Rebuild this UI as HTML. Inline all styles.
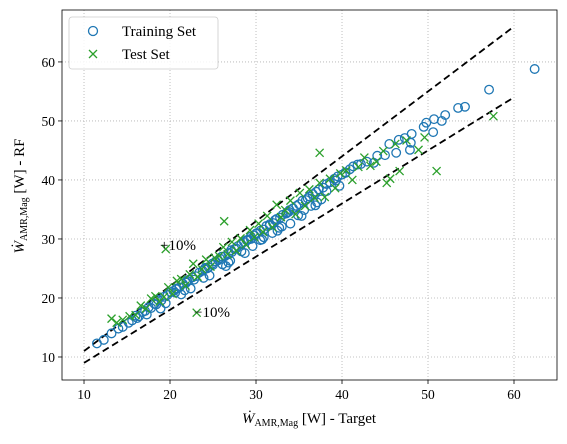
<!DOCTYPE html>
<html><head><meta charset="utf-8"><style>
body{margin:0;background:#fff;}
svg text{font-family:"Liberation Serif",serif;fill:#000;}
</style></head><body>
<svg id="chart" width="567" height="439" xmlns="http://www.w3.org/2000/svg">
<g id="grid"></g>
<g id="lines"></g>
<g id="train"></g>
<g id="test"></g>
<rect x="62" y="10" width="495" height="370" fill="none" stroke="#000" stroke-width="0.8"/>
<g id="axes"></g>
<text x="160" y="250" font-size="15">+10%</text>
<text x="194" y="317" font-size="15">−10%</text>
<text x="309" y="423" font-size="15" text-anchor="middle"><tspan font-style="italic">Ẇ</tspan><tspan font-size="10" dy="3">AMR,Mag</tspan><tspan dy="-3"> [W] - Target</tspan></text>
<text transform="translate(24,196) rotate(-90)" font-size="15" text-anchor="middle"><tspan font-style="italic">Ẇ</tspan><tspan font-size="10" dy="3">AMR,Mag</tspan><tspan dy="-3"> [W] - RF</tspan></text>
<g>
<rect x="69" y="17" width="149" height="52" rx="3" fill="#fff" fill-opacity="0.85" stroke="#ccc" stroke-width="0.8"/>
<circle cx="93" cy="31" r="4.5" fill="none" stroke="#1f77b4" stroke-width="1.3"/>
<text x="122" y="36" font-size="15">Training Set</text>
<path d="M89,50 l8,8 M97,50 l-8,8" stroke="#2ca02c" stroke-width="1.3"/>
<text x="122" y="59" font-size="15">Test Set</text>
</g>
</svg>
<script>
const xTicks=[10,20,30,40,50,60];
const yTicks=[10,20,30,40,50,60];
const trainX=[11.5,12.3,13.2,14.0,14.5,15.2,15.6,16.0,16.4,16.8,17.1,17.5,17.8,18.2,18.6,19.0,19.3,19.7,20.1,20.4,20.8,21.1,21.5,21.9,22.2,22.6,23.0,23.4,23.8,24.1,24.5,24.9,25.3,25.6,26.0,26.4,26.8,27.1,27.5,27.9,28.3,28.6,29.0,29.4,29.8,30.1,30.5,30.9,31.2,31.6,32.0,32.4,32.8,33.1,33.5,33.9,34.3,34.7,35.0,35.4,35.8,36.2,36.6,37.0,37.3,37.8,38.2,38.6,39.1,39.5,40.0,40.4,40.9,41.3,41.8,42.2,42.9,43.7,44.1,45.0,45.5,46.3,46.6,47.3,47.9,48.0,48.1,49.5,49.8,50.6,50.7,51.6,52.0,53.5,54.3,57.1,62.4,
 16.2,17.3,18.4,19.5,20.6,21.7,22.8,23.9,25.0,26.1,27.2,28.3,29.4,30.5,31.6,32.7,33.8,34.9,36.0,37.1,38.2,39.3,40.4,21.3,24.6,27.7,30.9,33.6,36.4,26.5,29.1,35.3,22.0,28.7,31.9,
 18.9,20.7,22.4,24.3,26.8,28.9,30.7,32.2,34.0,35.6,37.6,39.7,24.0,27.0,30.0,33.0,36.9,25.8,29.6,32.5];
const trainY=[12.3,12.9,14.0,14.8,15.1,15.8,16.2,17.0,16.9,17.6,17.8,18.4,18.3,19.0,19.7,19.6,20.2,20.5,21.0,21.2,21.6,21.8,22.4,22.6,23.1,23.5,23.7,24.3,24.6,25.1,25.2,25.8,26.2,26.4,27.0,27.1,27.6,28.1,28.3,28.8,29.1,29.5,29.8,30.4,30.6,31.0,31.4,31.6,32.2,32.5,32.7,33.4,33.6,34.1,34.3,34.9,35.2,35.6,35.9,36.5,36.6,37.2,37.6,38.0,38.4,38.7,39.3,39.6,40.2,40.6,40.9,41.3,41.8,42.3,42.6,42.7,43.1,42.9,44.1,44.2,46.1,44.6,46.8,47.1,45.1,46.3,47.8,49.0,49.7,48.1,50.3,50.0,51.0,52.2,52.4,55.3,58.8,
 16.6,17.2,18.9,19.1,20.9,21.3,23.1,23.4,25.6,25.7,27.8,27.9,30.0,29.8,32.3,31.9,34.6,34.0,36.9,36.2,38.1,39.9,41.2,20.6,23.8,28.4,30.3,34.5,35.6,25.4,29.9,33.9,22.9,27.6,31.0,
 18.2,21.5,21.6,25.0,26.0,29.8,29.9,33.2,32.6,34.9,36.7,39.0,24.9,26.3,30.9,32.1,35.7,26.7,28.8,31.4];
const testX=[13.2,13.8,14.5,15.3,16.0,16.6,17.2,17.8,18.3,18.8,19.3,19.8,20.3,20.8,21.3,21.8,22.3,22.7,23.2,23.7,24.2,24.7,25.2,25.7,26.2,26.7,27.2,27.7,28.2,28.8,29.3,29.8,30.3,30.8,31.3,31.9,32.4,32.9,33.4,34.0,34.6,35.1,35.7,36.2,36.8,37.4,38.0,38.6,39.2,39.8,40.5,41.2,41.9,42.6,43.3,44.0,44.8,45.2,45.6,46.2,46.7,47.5,48.9,49.6,51.0,57.6,37.4,19.5,23.1,26.3];
const testY=[16.5,15.8,16.3,16.9,17.1,18.7,18.2,19.9,20.3,19.4,20.2,21.8,20.7,22.9,23.2,22.1,24.0,25.8,23.6,24.9,26.5,25.3,26.8,27.1,28.6,27.4,29.5,28.0,30.1,29.1,31.5,30.3,32.6,31.2,33.9,32.0,35.8,33.7,34.9,36.5,34.2,37.8,35.6,38.4,37.0,39.5,37.1,40.2,38.6,41.1,41.6,40.0,42.2,43.8,42.4,43.1,44.9,39.5,40.2,46.1,41.5,46.7,45.1,47.2,41.5,50.8,44.6,28.3,17.5,33.0];
const L=62,T=10,W=495,H=370,xmin=7.44,xmax=65.0,ymin=6.1,ymax=68.8;
const sx=v=>L+(v-xmin)/(xmax-xmin)*W, sy=v=>T+(ymax-v)/(ymax-ymin)*H;
const NS="http://www.w3.org/2000/svg";
function mk(t,a,p){const e=document.createElementNS(NS,t);for(const k in a)e.setAttribute(k,a[k]);p.appendChild(e);return e;}
const grid=document.getElementById('grid'),axes=document.getElementById('axes');
xTicks.forEach(v=>{const x=sx(v);
 const g=mk('line',{x1:x,x2:x,y1:T,y2:T+H,stroke:'#b0b0b0','stroke-width':0.8,'stroke-dasharray':'1,2'},grid);
 
 
 const t=mk('line',{x1:x,x2:x,y1:T+H,y2:T+H+4,stroke:'#000','stroke-width':0.8},axes);
 
 
 const l=mk('text',{x:x,y:T+H+19,'font-size':13.5,'text-anchor':'middle'},axes);l.textContent=v;
 
 });
yTicks.forEach(v=>{const y=sy(v);
 const g=mk('line',{x1:L,x2:L+W,y1:y,y2:y,stroke:'#b0b0b0','stroke-width':0.8,'stroke-dasharray':'1,2'},grid);
 
 
 const t=mk('line',{x1:L-4,x2:L,y1:y,y2:y,stroke:'#000','stroke-width':0.8},axes);
 
 
 const l=mk('text',{x:L-7,y:y+5,'font-size':13.5,'text-anchor':'end'},axes);l.textContent=v;
 
 });
const lines=document.getElementById('lines');
[[1.1,'plus-10-line'],[0.9,'minus-10-line']].forEach(([f,n])=>{
 const e=mk('line',{x1:sx(10),y1:sy(10*f),x2:sx(60),y2:sy(60*f),stroke:'#000','stroke-width':1.8,'stroke-dasharray':'7,4'},lines);
 
 });
const tr=document.getElementById('train');
trainX.forEach((v,i)=>{const c=mk('circle',{cx:sx(v),cy:sy(trainY[i]),r:4.3,fill:'none',stroke:'#1f77b4','stroke-width':1.3},tr);
 
 });
const te=document.getElementById('test');
testX.forEach((v,i)=>{const x=sx(v),y=sy(testY[i]);
 const p=mk('path',{d:`M${x-4},${y-4}L${x+4},${y+4}M${x+4},${y-4}L${x-4},${y+4}`,stroke:'#2ca02c','stroke-width':1.3},te);
 
 });
</script>
</body></html>
